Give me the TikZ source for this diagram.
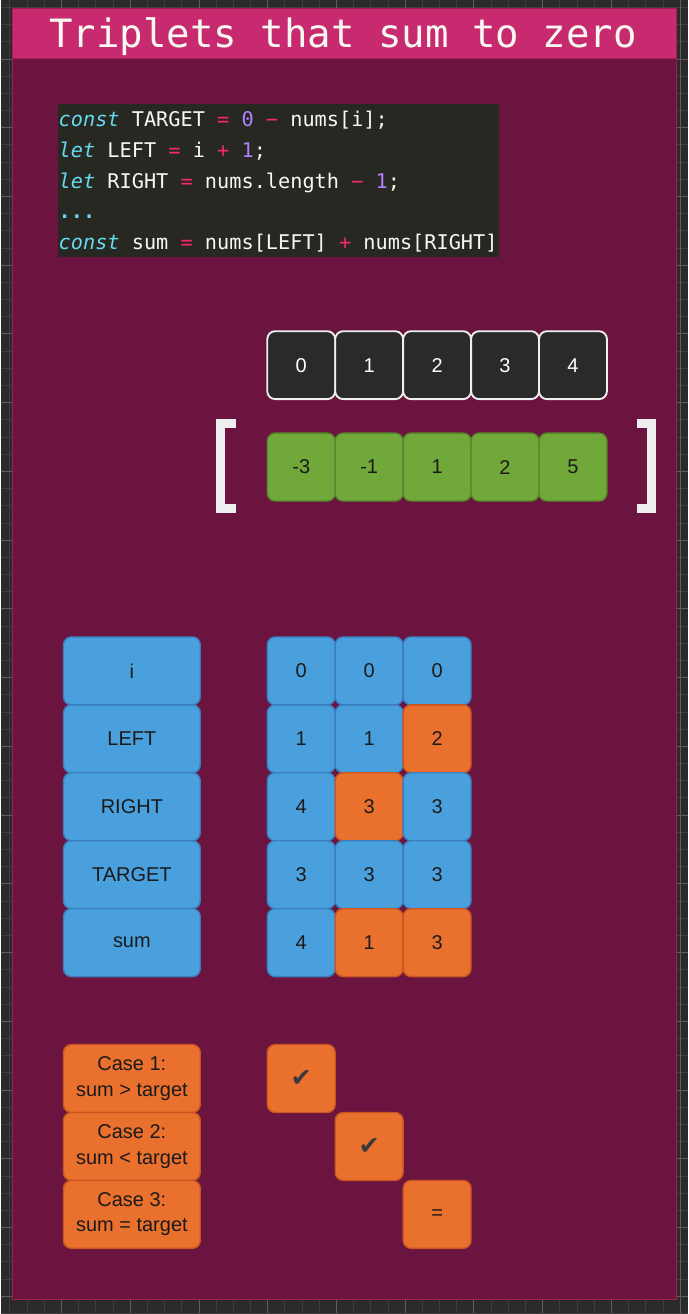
\documentclass[tikz,border=0pt]{standalone}
\usepackage{fontspec}
\setmainfont{Liberation Sans}
\newfontfamily\codefont{DejaVu Sans Mono}
\newfontfamily\symfont{DejaVu Sans}
\usetikzlibrary{positioning}
\definecolor{gridbg}{HTML}{2A2A2A}
\definecolor{gridminor}{HTML}{3E3E3E}
\definecolor{gridmajor}{HTML}{5E5E5E}
\definecolor{panelfill}{HTML}{6C1440}
\definecolor{panelline}{HTML}{A91E52}
\definecolor{titlefill}{HTML}{C72A6E}
\definecolor{codebg}{HTML}{272822}
\definecolor{cKey}{HTML}{66D9EF}
\definecolor{cOp}{HTML}{F92672}
\definecolor{cNum}{HTML}{AE81FF}
\definecolor{cTxt}{HTML}{F8F8F2}
\definecolor{idxfill}{HTML}{2A2A2A}
\definecolor{idxline}{HTML}{EEEEEE}
\definecolor{valfill}{HTML}{71A83A}
\definecolor{valline}{HTML}{55882A}
\definecolor{bluefill}{HTML}{4A9FDD}
\definecolor{blueline}{HTML}{3B7EBE}
\definecolor{orfill}{HTML}{EA702E}
\definecolor{orline}{HTML}{C8561E}
\definecolor{txtdark}{HTML}{1A1A1A}
\definecolor{checkgray}{HTML}{3A3A3A}
\newcommand{\kw}[1]{\textcolor{cKey}{\itshape #1}}
\newcommand{\op}[1]{\textcolor{cOp}{#1}}
\newcommand{\nm}[1]{\textcolor{cNum}{#1}}
\newcommand{\chk}{{\symfont\fontsize{19}{19}\selectfont\textcolor{checkgray}{✔}}}
\tikzset{
  cell/.style={rounded corners=6pt, minimum width=51pt, minimum height=51pt, inner sep=0pt,
    line width=1pt, font=\fontsize{15}{19}\selectfont, align=center},
  idx/.style={cell, fill=idxfill, draw=idxline, text=white, line width=1.4pt},
  val/.style={cell, fill=valfill, draw=valline, text=txtdark},
  blue/.style={cell, fill=bluefill, draw=blueline, text=txtdark},
  org/.style={cell, fill=orfill, draw=orline, text=txtdark},
  lbl/.style={minimum width=102.75pt},
  codeline/.style={anchor=base west, inner sep=0pt, text=cTxt,
    font=\codefont\fontsize{15.2}{18}\selectfont},
  bracket/.style={draw=idxline, line width=6.75pt, line join=miter}
}
\begin{document}
\begin{tikzpicture}[x=0.75pt,y=-0.75pt,node distance=51pt,on grid]
\fill[gridbg] (0,0) rectangle (688,1314);
\foreach \k in {0,...,39} {
  \pgfmathsetmacro\gx{9.5+17.2*\k}
  \draw[gridminor, line width=0.75pt] (\gx,0) -- (\gx,1314);
}
\foreach \k in {0,...,76} {
  \pgfmathsetmacro\gy{7+17.2*\k}
  \draw[gridminor, line width=0.75pt] (0,\gy) -- (688,\gy);
}
\foreach \k in {3,7,...,39} {
  \pgfmathsetmacro\gx{9.5+17.2*\k}
  \draw[gridmajor, line width=0.75pt] (\gx,0) -- (\gx,1314);
}
\foreach \k in {3,7,...,76} {
  \pgfmathsetmacro\gy{7+17.2*\k}
  \draw[gridmajor, line width=0.75pt] (0,\gy) -- (688,\gy);
}
\filldraw[fill=panelfill, draw=panelline, line width=0.75pt] (12,8) rectangle (676.5,1300);
\filldraw[fill=titlefill, draw=panelline, line width=0.75pt] (12,8) rectangle (676.5,58.5);
\node (title) [anchor=base, inner sep=0pt, text=cTxt, font=\codefont\fontsize{29.3}{34}\selectfont]
  at (343,47.5) {Triplets that sum to zero};

\fill[codebg] (58,104) rectangle (499,257);
\node (l1) [codeline] at (58,126.5) {\kw{const} TARGET \op{=} \nm{0} \op{−} nums[i];};
\node (l2) [codeline] at (58,157) {\kw{let} LEFT \op{=} i \op{+} \nm{1};};
\node (l3) [codeline] at (58,188) {\kw{let} RIGHT \op{=} nums.length \op{−} \nm{1};};
\node (l4) [codeline] at (58,218.5) {\textcolor{cKey}{\bfseries ...}};
\node (l5) [codeline] at (58,249.3) {\kw{const} sum \op{=} nums[LEFT] \op{+} nums[RIGHT]};

\node [idx] (i0) at (301,365) {0};
\node [idx] (i1) [right=of i0] {1};
\node [idx] (i2) [right=of i1] {2};
\node [idx] (i3) [right=of i2] {3};
\node [idx] (i4) [right=of i3] {4};
\node [val] (v0) at (301,467) {-3};
\node [val] (v1) [right=of v0] {-1};
\node [val] (v2) [right=of v1] {1};
\node [val] (v3) [right=of v2] {2};
\node [val] (v4) [right=of v3] {5};
\draw[bracket] (236,423.5) -- (220.5,423.5) -- (220.5,508.5) -- (236,508.5);
\draw[bracket] (637,423.5) -- (652,423.5) -- (652,508.5) -- (637,508.5);

\node [blue,lbl] (ri) at (131.5,671) {i};
\node [blue,lbl] (rleft) [below=of ri] {LEFT};
\node [blue,lbl] (rright) [below=of rleft] {RIGHT};
\node [blue,lbl] (rtarget) [below=of rright] {TARGET};
\node [blue,lbl] (rsum) [below=of rtarget] {sum};

\node [blue] (a1) at (301,671) {0};
\node [blue] (b1) [right=of a1] {0};
\node [blue] (c1) [right=of b1] {0};
\node [blue] (a2) [below=of a1] {1};
\node [blue] (b2) [right=of a2] {1};
\node [org] (c2) [right=of b2] {2};
\node [blue] (a3) [below=of a2] {4};
\node [org] (b3) [right=of a3] {3};
\node [blue] (c3) [right=of b3] {3};
\node [blue] (a4) [below=of a3] {3};
\node [blue] (b4) [right=of a4] {3};
\node [blue] (c4) [right=of b4] {3};
\node [blue] (a5) [below=of a4] {4};
\node [org] (b5) [right=of a5] {1};
\node [org] (c5) [right=of b5] {3};

\node [org,lbl] (case1) at (131.5,1079) {Case 1:\\sum > target};
\node [org,lbl] (case2) [below=of case1] {Case 2:\\sum < target};
\node [org,lbl] (case3) [below=of case2] {Case 3:\\sum = target};
\node [org] (k1) at (301,1079) {\chk};
\node [org] (k2) at (369,1147) {\chk};
\node [org] (k3) at (437,1215) {=};
\end{tikzpicture}
\end{document}
